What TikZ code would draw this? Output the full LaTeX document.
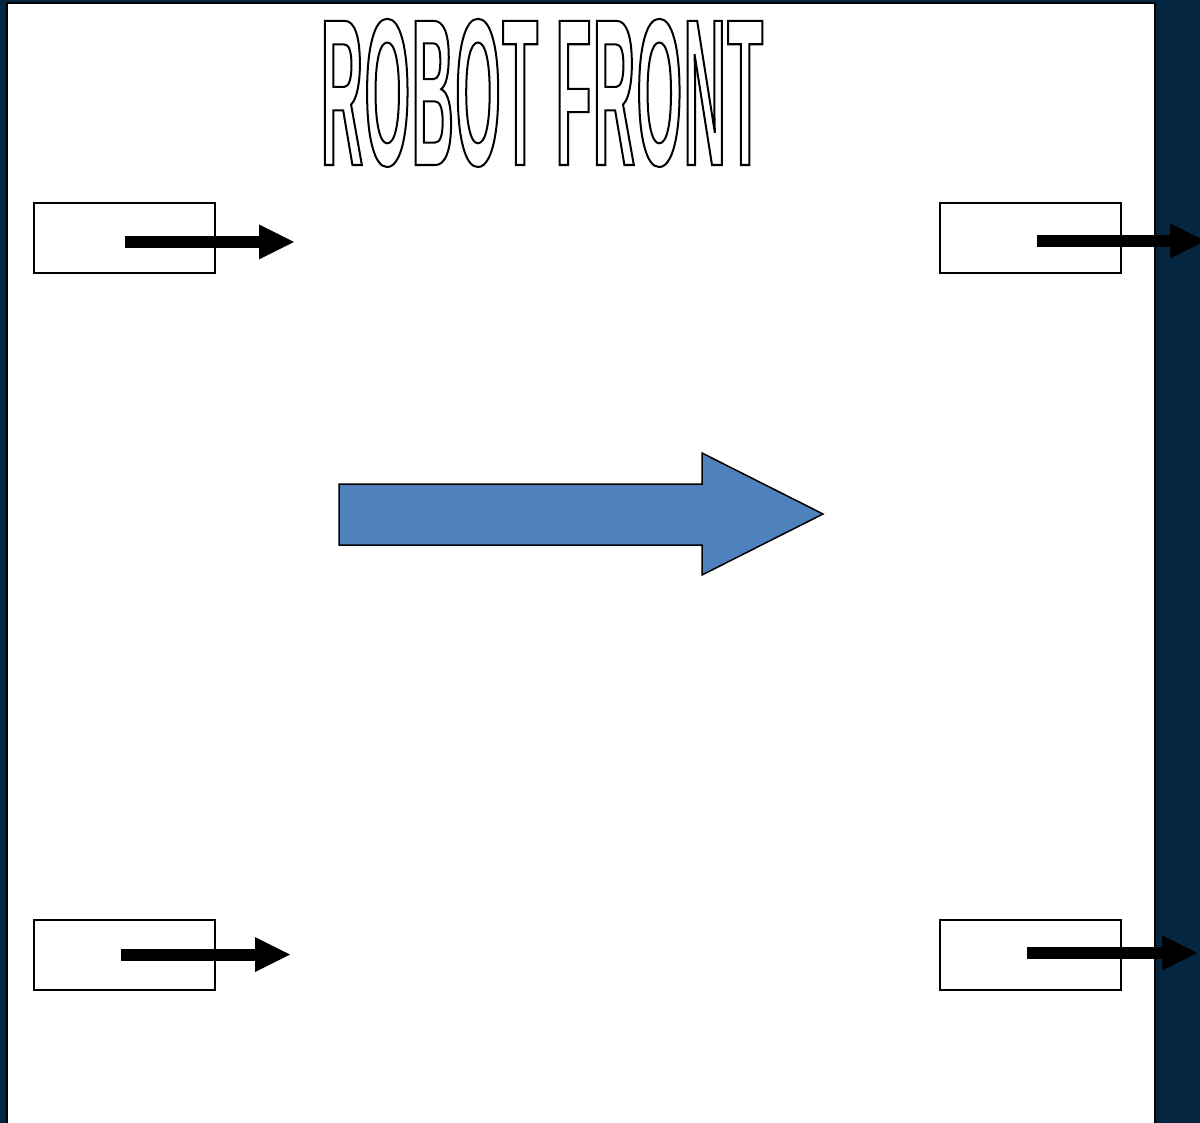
\documentclass[tikz,border=0pt]{standalone}
\usepackage{fontspec}
\setmainfont{Liberation Sans}
\newfontfamily\titlefont[FakeStretch=0.278,LetterSpace=0.8]{Liberation Sans Bold}
\usetikzlibrary{arrows.meta}
\definecolor{slidebg}{RGB}{4,38,64}
\definecolor{bigblue}{RGB}{79,129,189}
% outlined (stroke-only) text
\newcommand\outlinedtext[1]{\special{pdf:code q 1 Tr 1 w}#1\special{pdf:code Q}}
\tikzset{
  wheelbox/.style={draw=black, line width=1pt, fill=white, inner sep=0pt,
                   minimum width=90.5pt, minimum height=35pt},
  wheelarrow/.style={line width=6pt,
                     -{Triangle[length=17.5pt,width=17.5pt,line width=0pt]}},
}
\begin{document}
\begin{tikzpicture}[x=0.5pt,y=-0.5pt]
  \useasboundingbox (0,0) rectangle (1200,1123);
  \clip (0,0) rectangle (1200,1123);
  % slide background and white panel
  \fill[slidebg] (0,0) rectangle (1200,1123);
  \draw[line width=1pt, fill=white] (7,3) rectangle (1155,1135);
  % title
  \node[anchor=base, inner sep=0pt] (title) at (542,165)
    {\fontsize{104.7pt}{110pt}\titlefont\outlinedtext{ROBOT FRONT}};
  % wheels
  \node[wheelbox] (tl) at (124.5,238) {};
  \node[wheelbox] (tr) at (1030.5,238) {};
  \node[wheelbox] (bl) at (124.5,954.5) {};
  \node[wheelbox] (br) at (1030.5,955) {};
  \coordinate (tlend) at (294,242);
  \coordinate (trend) at (1205,241);
  \coordinate (blend) at (290,954.5);
  \coordinate (brend) at (1197,953);
  \draw[wheelarrow] ([yshift=-2pt]tl.center) -- (tlend);
  \draw[wheelarrow] ([xshift=3pt,yshift=-1.5pt]tr.center) -- (trend);
  \draw[wheelarrow] ([xshift=-2pt]bl.center) -- (blend);
  \draw[wheelarrow] ([xshift=-2pt,yshift=1pt]br.center) -- (brend);
  % direction of travel
  \draw[fill=bigblue, line width=0.75pt, line join=miter]
    (339,484) -- (702,484) -- (702,453) -- (823,514) -- (702,575)
    -- (702,545) -- (339,545) -- cycle;
\end{tikzpicture}
\end{document}
